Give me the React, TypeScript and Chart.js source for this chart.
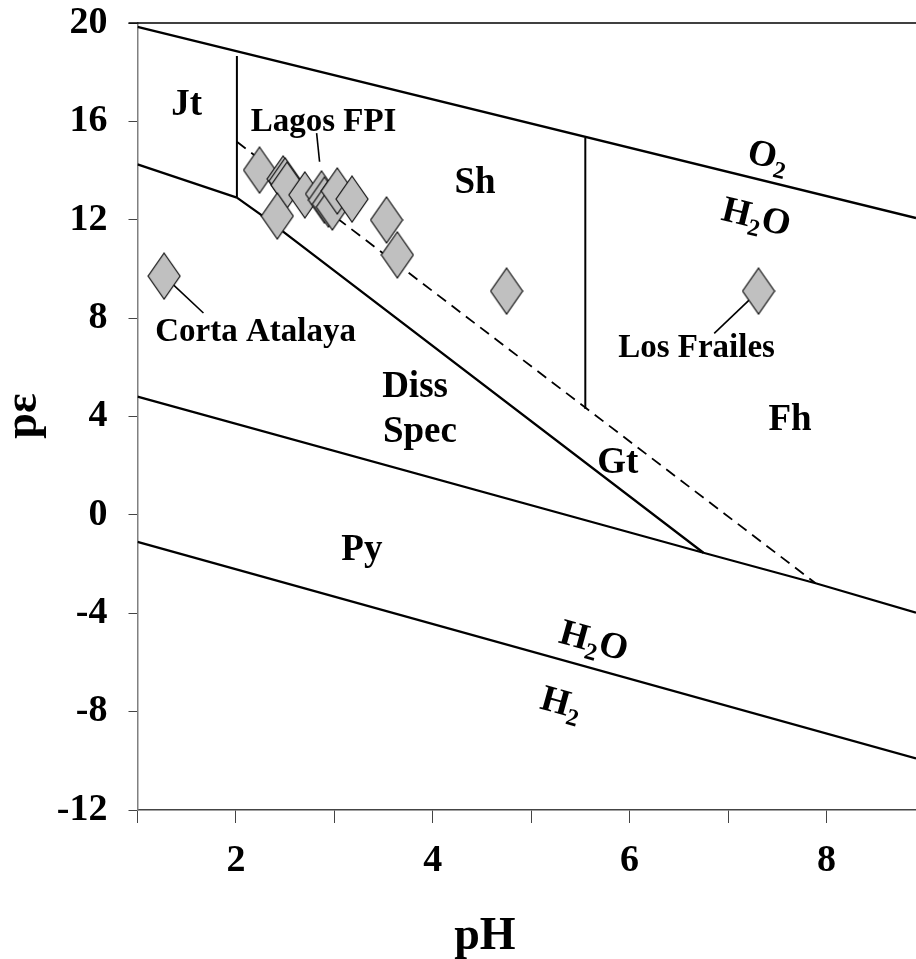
import React, { useEffect, useRef } from 'react';
import { Chart, registerables } from 'chart.js';

Chart.register(...registerables);

// ---- axis ticks ----
const xTicks = [1, 2, 3, 4, 5, 6, 7, 8];
const xTickLabels = ['', '2', '', '4', '', '6', '', '8'];
const yTicks = [-12, -8, -4, 0, 4, 8, 12, 16, 20];

// ---- sample points (pH, pε) ----
const samplePH = [2.24, 2.48, 2.5, 2.52, 2.42, 2.7, 2.87, 2.9, 2.94, 2.98, 3.03, 3.18, 3.53, 3.64, 4.75, 7.31, 1.27];
const samplePE = [14.02, 13.66, 13.58, 13.41, 12.15, 13.01, 13.05, 12.8, 12.64, 12.52, 13.17, 12.84, 11.99, 10.57, 9.1, 9.1, 9.71];

// ---- stability field boundaries ----
const o2LinePH = [1, 8.91];
const o2LinePE = [19.84, 12.07];
const h2LinePH = [1, 8.91];
const h2LinePE = [-1.1, -9.9];
const pyLinePH = [1, 6.75, 7.89, 8.91];
const pyLinePE = [4.81, -1.54, -2.78, -3.98];
const jtLinePH = [1, 2.01];
const jtLinePE = [14.25, 12.9];
const jtShLinePH = [2.01, 2.01];
const jtShLinePE = [12.9, 18.66];
const gtLinePH = [2.01, 2.26, 6.75];
const gtLinePE = [12.9, 12.19, -1.54];
const fhDashPH = [2.01, 7.89];
const fhDashPE = [15.17, -2.78];
const shFhLinePH = [5.55, 5.55];
const shFhLinePE = [15.33, 4.3];

// ---- label pointers ----
const cortaPointerPH = [1.27, 1.67];
const cortaPointerPE = [9.71, 8.21];
const lagosPointerPH = [2.82, 2.85];
const lagosPointerPE = [15.52, 14.36];
const frailesPointerPH = [7.31, 6.86];
const frailesPointerPE = [9.1, 7.38];

// ---- text annotations (anchor = text centre, baseline) ----
const regionLabels = ['Jt', 'Sh', 'Diss', 'Spec', 'Gt', 'Fh', 'Py'];
const regionLabelPH = [1.5, 4.43, 3.82, 3.87, 5.88, 7.63, 3.28];
const regionLabelPE = [16.26, 13.09, 4.81, 2.98, 1.7, 3.45, -1.83];

const siteLabels = ['Lagos FPI', 'Corta Atalaya', 'Los Frailes'];
const siteLabelPH = [2.89, 2.2, 6.68];
const siteLabelPE = [15.59, 7.07, 6.42];

const formulaLabels = ['O_2', 'H_2O', 'H_2O', 'H_2'];
const formulaPH = [7.41, 7.29, 5.64, 5.31];
const formulaPE = [14.63, 12.15, -5.09, -7.61];
const formulaOnLine = ['o2', 'o2', 'h2', 'h2'];

const SERIF = '"Liberation Serif", "Times New Roman", Times, serif';

function pts(xs: number[], ys: number[]) {
  return xs.map((v, i) => ({ x: v, y: ys[i] }));
}

function lineDs(xs: number[], ys: number[], width = 2.3, dash: number[] = []) {
  return {
    type: 'scatter' as const,
    data: pts(xs, ys),
    showLine: true,
    borderColor: '#000',
    borderWidth: width,
    borderDash: dash,
    pointRadius: 0,
    pointHoverRadius: 0,
    fill: false,
    tension: 0,
    order: 2,
  };
}

function makeDiamond() {
  const c = document.createElement('canvas');
  c.width = 34;
  c.height = 48;
  const g = c.getContext('2d')!;
  g.beginPath();
  g.moveTo(17, 1);
  g.lineTo(33, 24);
  g.lineTo(17, 47);
  g.lineTo(1, 24);
  g.closePath();
  g.fillStyle = '#c0c0c0';
  g.fill();
  g.strokeStyle = '#111';
  g.lineWidth = 1.2;
  g.stroke();
  return c;
}

function drawFormula(ctx: CanvasRenderingContext2D, text: string, cx: number, cy: number, angle: number) {
  const parts: { t: string; sub: boolean }[] = [];
  for (let i = 0; i < text.length; i++) {
    if (text[i] === '_') {
      parts.push({ t: text[i + 1], sub: true });
      i++;
    } else parts.push({ t: text[i], sub: false });
  }
  const mainFont = `bold 37px ${SERIF}`;
  const subFont = `bold 24px ${SERIF}`;
  let total = 0;
  const widths = parts.map((p) => {
    ctx.font = p.sub ? subFont : mainFont;
    const w = ctx.measureText(p.t).width;
    total += w;
    return w;
  });
  ctx.save();
  ctx.translate(cx, cy);
  ctx.rotate(angle);
  ctx.textAlign = 'left';
  ctx.textBaseline = 'alphabetic';
  ctx.fillStyle = '#000';
  let xx = -total / 2;
  parts.forEach((p, i) => {
    ctx.font = p.sub ? subFont : mainFont;
    ctx.fillText(p.t, xx, p.sub ? 20 : 12);
    xx += widths[i];
  });
  ctx.restore();
}

const annotPlugin = {
  id: 'annot',
  afterDraw(chart: any) {
    const { ctx, chartArea } = chart;
    const xs = chart.scales.x;
    const ys = chart.scales.y;
    ctx.save();
    // top frame line
    ctx.strokeStyle = '#000';
    ctx.lineWidth = 1.5;
    ctx.beginPath();
    ctx.moveTo(chartArea.left - 9, chartArea.top);
    ctx.lineTo(chartArea.right, chartArea.top);
    ctx.stroke();

    ctx.fillStyle = '#000';
    ctx.textAlign = 'center';
    ctx.textBaseline = 'alphabetic';
    ctx.font = `bold 37px ${SERIF}`;
    regionLabels.forEach((t, i) => {
      ctx.fillText(t, xs.getPixelForValue(regionLabelPH[i]), ys.getPixelForValue(regionLabelPE[i]));
    });
    ctx.font = `bold 33px ${SERIF}`;
    siteLabels.forEach((t, i) => {
      ctx.fillText(t, xs.getPixelForValue(siteLabelPH[i]), ys.getPixelForValue(siteLabelPE[i]));
    });

    const angleOf = (phs: number[], pes: number[]) => {
      const x0 = xs.getPixelForValue(phs[0]);
      const y0 = ys.getPixelForValue(pes[0]);
      const x1 = xs.getPixelForValue(phs[phs.length - 1]);
      const y1 = ys.getPixelForValue(pes[pes.length - 1]);
      return Math.atan2(y1 - y0, x1 - x0);
    };
    const angles: Record<string, number> = {
      o2: angleOf(o2LinePH, o2LinePE),
      h2: angleOf(h2LinePH, h2LinePE),
    };
    formulaLabels.forEach((t, i) => {
      drawFormula(ctx, t, xs.getPixelForValue(formulaPH[i]), ys.getPixelForValue(formulaPE[i]), angles[formulaOnLine[i]]);
    });

    // axis titles
    ctx.font = `bold 46px ${SERIF}`;
    ctx.textAlign = 'center';
    ctx.textBaseline = 'alphabetic';
    ctx.fillText('pH', xs.getPixelForValue(4.53), 949);
    ctx.save();
    ctx.translate(36, ys.getPixelForValue(4.02));
    ctx.rotate(-Math.PI / 2);
    ctx.fillText('pε', 0, 0);
    ctx.restore();
    ctx.restore();
  },
};

export default function App() {
  const ref = useRef<HTMLCanvasElement>(null);
  useEffect(() => {
    if (!ref.current) return;
    const diamond = makeDiamond();
    const chart = new Chart(ref.current, {
      type: 'scatter',
      data: {
        datasets: [
          {
            type: 'scatter',
            data: pts(samplePH, samplePE),
            pointStyle: diamond as any,
            pointRadius: 16,
            pointHoverRadius: 16,
            showLine: false,
            order: 0,
            clip: false,
          } as any,
          lineDs(o2LinePH, o2LinePE),
          lineDs(h2LinePH, h2LinePE),
          lineDs(pyLinePH, pyLinePE),
          lineDs(jtLinePH, jtLinePE),
          lineDs(jtShLinePH, jtShLinePE, 2),
          lineDs(gtLinePH, gtLinePE),
          lineDs(fhDashPH, fhDashPE, 1.8, [11, 7]),
          lineDs(shFhLinePH, shFhLinePE, 2),
          lineDs(cortaPointerPH, cortaPointerPE, 1.6),
          lineDs(lagosPointerPH, lagosPointerPE, 1.6),
          lineDs(frailesPointerPH, frailesPointerPE, 1.6),
        ],
      },
      options: {
        animation: false,
        responsive: false,
        maintainAspectRatio: false,
        devicePixelRatio: 1,
        layout: { autoPadding: false, padding: { top: 23, left: 0, right: 0, bottom: 0 } },
        plugins: {
          legend: { display: false },
          tooltip: { enabled: false },
          title: { display: false },
        },
        events: [],
        scales: {
          x: {
            type: 'linear',
            min: 1,
            max: 8.91,
            afterBuildTicks: (s: any) => {
              s.ticks = xTicks.map((v) => ({ value: v }));
            },
            afterFit: (s: any) => {
              s.height = 149;
              s.paddingLeft = 0;
              s.paddingRight = 0;
            },
            ticks: {
              autoSkip: false,
              maxRotation: 0,
              padding: 15,
              color: '#000',
              font: { family: SERIF, size: 38, weight: 'bold' },
              callback: (v: any) => xTickLabels[xTicks.indexOf(Number(v))] ?? '',
            },
            grid: { drawOnChartArea: false, drawTicks: true, tickLength: 13, color: '#444', lineWidth: 1 },
            border: { display: true, color: '#444', width: 1.5 },
          },
          y: {
            type: 'linear',
            min: -12,
            max: 20,
            afterBuildTicks: (s: any) => {
              s.ticks = yTicks.map((v) => ({ value: v }));
            },
            afterFit: (s: any) => {
              s.width = 137.5;
              s.paddingTop = 0;
              s.paddingBottom = 0;
            },
            ticks: {
              autoSkip: false,
              padding: 21,
              color: '#000',
              font: { family: SERIF, size: 38, weight: 'bold' },
              callback: (v: any) => String(v),
            },
            grid: { drawOnChartArea: false, drawTicks: true, tickLength: 9, color: '#444', lineWidth: 1 },
            border: { display: true, color: '#808080', width: 1.5 },
          },
        },
      } as any,
      plugins: [annotPlugin],
    });
    return () => chart.destroy();
  }, []);

  return (
    <div style={{ position: 'absolute', left: 0, top: 0, width: 916, height: 959, background: '#fff' }}>
      <canvas ref={ref} width={916} height={959} style={{ display: 'block' }} />
    </div>
  );
}
